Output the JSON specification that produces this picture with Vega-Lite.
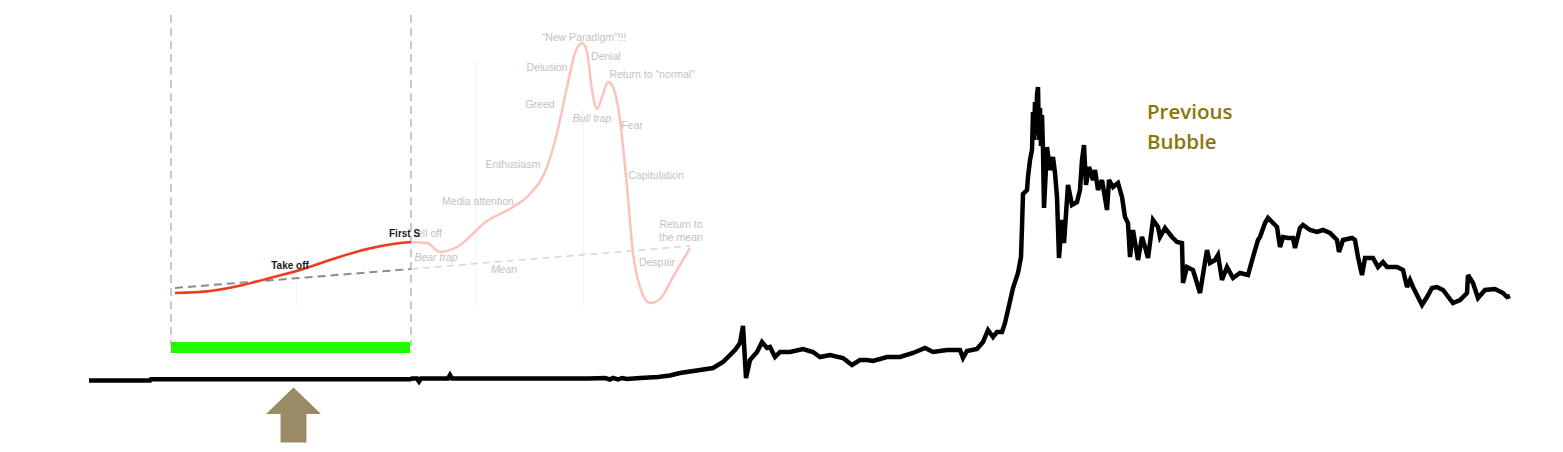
{
  "$schema": "https://vega.github.io/schema/vega-lite/v6.json",
  "width": 1563,
  "height": 452,
  "autosize": {"type": "fit", "contains": "padding"},
  "padding": 0,
  "background": "white",
  "config": {"view": {"stroke": null}},
  "datasets": {
    "grid": [
      {"x": 297, "y": 253, "y2": 305},
      {"x": 476, "y": 62, "y2": 305},
      {"x": 583, "y": 110, "y2": 305}
    ],
    "phases": [
      {"x": 171, "y": 15, "y2": 346},
      {"x": 411, "y": 15, "y2": 346}
    ],
    "meanDark": [
      {"x": 175, "y": 288},
      {"x": 411, "y": 269}
    ],
    "meanLight": [
      {"x": 411, "y": 269},
      {"x": 690, "y": 246}
    ],
    "cycleFaded": [
      {"x": 411, "y": 242}, {"x": 427, "y": 243}, {"x": 440, "y": 252}, {"x": 457, "y": 247},
      {"x": 487, "y": 221}, {"x": 513, "y": 207}, {"x": 530, "y": 194}, {"x": 547, "y": 167},
      {"x": 557, "y": 133}, {"x": 567, "y": 87}, {"x": 575, "y": 53}, {"x": 582, "y": 43},
      {"x": 587, "y": 52}, {"x": 592, "y": 90}, {"x": 597, "y": 109}, {"x": 602, "y": 97},
      {"x": 608, "y": 82}, {"x": 613, "y": 87}, {"x": 620, "y": 120}, {"x": 627, "y": 187},
      {"x": 633, "y": 253}, {"x": 640, "y": 287}, {"x": 650, "y": 303}, {"x": 660, "y": 299},
      {"x": 673, "y": 277}, {"x": 690, "y": 248}
    ],
    "cycleActive": [
      {"x": 175, "y": 293}, {"x": 210, "y": 291}, {"x": 243, "y": 285}, {"x": 270, "y": 278},
      {"x": 300, "y": 270}, {"x": 333, "y": 259}, {"x": 367, "y": 249}, {"x": 393, "y": 244},
      {"x": 411, "y": 242}
    ],
    "price": [
      {"x": 89, "y": 380.5}, {"x": 150, "y": 380.5}, {"x": 151, "y": 379.3}, {"x": 410, "y": 379.3},
      {"x": 412, "y": 378.5}, {"x": 417, "y": 378.5}, {"x": 419, "y": 381.5}, {"x": 421, "y": 378.5},
      {"x": 448, "y": 378.5}, {"x": 450, "y": 375}, {"x": 452, "y": 378.5}, {"x": 589, "y": 378.5},
      {"x": 605, "y": 378}, {"x": 610, "y": 379.5}, {"x": 613, "y": 378}, {"x": 618, "y": 379.5},
      {"x": 622, "y": 378}, {"x": 627, "y": 379}, {"x": 640, "y": 378}, {"x": 658, "y": 377},
      {"x": 670, "y": 375.5}, {"x": 680, "y": 373}, {"x": 700, "y": 370}, {"x": 713, "y": 368},
      {"x": 723, "y": 362}, {"x": 735, "y": 350}, {"x": 740, "y": 343}, {"x": 743, "y": 326},
      {"x": 746, "y": 378}, {"x": 750, "y": 360}, {"x": 757, "y": 352}, {"x": 762, "y": 342},
      {"x": 767, "y": 348}, {"x": 770, "y": 347}, {"x": 775, "y": 357}, {"x": 780, "y": 352},
      {"x": 790, "y": 352}, {"x": 803, "y": 349}, {"x": 813, "y": 352}, {"x": 820, "y": 357},
      {"x": 830, "y": 355}, {"x": 843, "y": 358}, {"x": 852, "y": 365}, {"x": 860, "y": 360},
      {"x": 867, "y": 360}, {"x": 873, "y": 361}, {"x": 887, "y": 357}, {"x": 900, "y": 357},
      {"x": 913, "y": 353}, {"x": 925, "y": 348}, {"x": 933, "y": 352}, {"x": 947, "y": 350},
      {"x": 960, "y": 350}, {"x": 963, "y": 358}, {"x": 967, "y": 351}, {"x": 977, "y": 349},
      {"x": 983, "y": 342}, {"x": 988, "y": 330}, {"x": 993, "y": 337}, {"x": 997, "y": 332},
      {"x": 1002, "y": 332}, {"x": 1005, "y": 323}, {"x": 1008, "y": 310}, {"x": 1013, "y": 288},
      {"x": 1018, "y": 273}, {"x": 1021, "y": 257}, {"x": 1022, "y": 227}, {"x": 1023, "y": 194},
      {"x": 1027, "y": 190}, {"x": 1028, "y": 177}, {"x": 1030, "y": 160}, {"x": 1032, "y": 150},
      {"x": 1033, "y": 112}, {"x": 1034, "y": 140}, {"x": 1035, "y": 102}, {"x": 1036, "y": 135},
      {"x": 1037, "y": 95}, {"x": 1038, "y": 87}, {"x": 1039, "y": 140}, {"x": 1040, "y": 108},
      {"x": 1041, "y": 146}, {"x": 1042, "y": 115}, {"x": 1043, "y": 150}, {"x": 1044, "y": 208},
      {"x": 1047, "y": 147}, {"x": 1050, "y": 170}, {"x": 1053, "y": 157}, {"x": 1055, "y": 173},
      {"x": 1057, "y": 197}, {"x": 1059, "y": 258}, {"x": 1062, "y": 220}, {"x": 1064, "y": 243},
      {"x": 1068, "y": 185}, {"x": 1072, "y": 205}, {"x": 1077, "y": 202}, {"x": 1080, "y": 190},
      {"x": 1082, "y": 160}, {"x": 1084, "y": 145}, {"x": 1086, "y": 185}, {"x": 1089, "y": 167},
      {"x": 1093, "y": 180}, {"x": 1095, "y": 170}, {"x": 1098, "y": 190}, {"x": 1102, "y": 180},
      {"x": 1107, "y": 210}, {"x": 1109, "y": 180}, {"x": 1113, "y": 187}, {"x": 1118, "y": 183},
      {"x": 1122, "y": 197}, {"x": 1125, "y": 217}, {"x": 1128, "y": 223}, {"x": 1130, "y": 257},
      {"x": 1133, "y": 230}, {"x": 1138, "y": 260}, {"x": 1142, "y": 237}, {"x": 1145, "y": 247},
      {"x": 1148, "y": 258}, {"x": 1153, "y": 220}, {"x": 1158, "y": 227}, {"x": 1160, "y": 237},
      {"x": 1165, "y": 228}, {"x": 1172, "y": 237}, {"x": 1177, "y": 242}, {"x": 1182, "y": 243},
      {"x": 1183, "y": 283}, {"x": 1187, "y": 267}, {"x": 1193, "y": 270}, {"x": 1200, "y": 293},
      {"x": 1207, "y": 250}, {"x": 1210, "y": 263}, {"x": 1215, "y": 260}, {"x": 1218, "y": 255},
      {"x": 1222, "y": 280}, {"x": 1227, "y": 267}, {"x": 1233, "y": 278}, {"x": 1240, "y": 273},
      {"x": 1248, "y": 275}, {"x": 1253, "y": 257}, {"x": 1258, "y": 240}, {"x": 1260, "y": 237},
      {"x": 1265, "y": 223}, {"x": 1268, "y": 218}, {"x": 1273, "y": 223}, {"x": 1277, "y": 227},
      {"x": 1280, "y": 247}, {"x": 1283, "y": 237}, {"x": 1288, "y": 238}, {"x": 1293, "y": 238},
      {"x": 1295, "y": 248}, {"x": 1300, "y": 228}, {"x": 1303, "y": 225}, {"x": 1310, "y": 230},
      {"x": 1317, "y": 232}, {"x": 1323, "y": 230}, {"x": 1330, "y": 233}, {"x": 1337, "y": 240},
      {"x": 1339, "y": 252}, {"x": 1343, "y": 240}, {"x": 1352, "y": 238}, {"x": 1355, "y": 240},
      {"x": 1358, "y": 257}, {"x": 1362, "y": 275}, {"x": 1365, "y": 258}, {"x": 1373, "y": 258},
      {"x": 1378, "y": 267}, {"x": 1383, "y": 262}, {"x": 1387, "y": 267}, {"x": 1397, "y": 267},
      {"x": 1403, "y": 270}, {"x": 1407, "y": 287}, {"x": 1410, "y": 280}, {"x": 1413, "y": 287},
      {"x": 1422, "y": 305}, {"x": 1427, "y": 297}, {"x": 1432, "y": 288}, {"x": 1437, "y": 287},
      {"x": 1443, "y": 290}, {"x": 1453, "y": 303}, {"x": 1460, "y": 300}, {"x": 1467, "y": 293},
      {"x": 1468, "y": 275}, {"x": 1473, "y": 283}, {"x": 1478, "y": 298}, {"x": 1485, "y": 290},
      {"x": 1495, "y": 289}, {"x": 1503, "y": 293}, {"x": 1507, "y": 297}, {"x": 1510, "y": 296}
    ],
    "band": [{"x": 171, "x2": 410, "y": 342, "y2": 353}],
    "arrow": [{"x": 293.5, "y": 415}],
    "grayLabels": [
      {"x": 584, "y": 38, "t": "“New Paradigm”!!!"},
      {"x": 547, "y": 68, "t": "Delusion"},
      {"x": 606, "y": 57, "t": "Denial"},
      {"x": 652, "y": 75, "t": "Return to “normal”"},
      {"x": 540, "y": 105, "t": "Greed"},
      {"x": 632, "y": 126, "t": "Fear"},
      {"x": 513, "y": 165, "t": "Enthusiasm"},
      {"x": 656, "y": 176, "t": "Capitulation"},
      {"x": 478, "y": 202, "t": "Media attention"},
      {"x": 681, "y": 225, "t": "Return to"},
      {"x": 681, "y": 238, "t": "the mean"},
      {"x": 657, "y": 263, "t": "Despair"}
    ],
    "grayItalic": [
      {"x": 592, "y": 119, "t": "Bull trap"},
      {"x": 436, "y": 258, "t": "Bear trap"},
      {"x": 504, "y": 270, "t": "Mean"}
    ],
    "grayLeft": [{"x": 417, "y": 234, "t": "ell off"}],
    "boldLabels": [{"x": 290, "y": 266, "t": "Take off"}],
    "boldLeft": [{"x": 389, "y": 234, "t": "First S"}],
    "bubble": [
      {"x": 1147, "y": 113, "t": "Previous"},
      {"x": 1147, "y": 143, "t": "Bubble"}
    ]
  },
  "encoding": {
    "x": {"field": "x", "type": "quantitative", "scale": {"domain": [0, 1563], "nice": false, "zero": false}, "axis": null},
    "y": {"field": "y", "type": "quantitative", "scale": {"domain": [0, 452], "nice": false, "zero": false, "reverse": true}, "axis": null}
  },
  "layer": [
    {
      "data": {"name": "grid"},
      "mark": {"type": "rule", "color": "#efefef", "strokeWidth": 1},
      "encoding": {"y2": {"field": "y2"}}
    },
    {
      "data": {"name": "phases"},
      "mark": {"type": "rule", "color": "#c8c8c8", "strokeWidth": 2, "strokeDash": [8, 5]},
      "encoding": {"y2": {"field": "y2"}}
    },
    {
      "data": {"name": "meanLight"},
      "mark": {"type": "line", "color": "#d6d6d6", "strokeWidth": 1.5, "strokeDash": [7, 5]},
      "encoding": {"order": {"value": null}}
    },
    {
      "data": {"name": "meanDark"},
      "mark": {"type": "line", "color": "#8c8c8c", "strokeWidth": 2, "strokeDash": [8, 5]},
      "encoding": {"order": {"value": null}}
    },
    {
      "data": {"name": "cycleFaded"},
      "mark": {"type": "line", "color": "#fbc3b9", "strokeWidth": 2.5, "interpolate": "monotone"},
      "encoding": {"order": {"value": null}}
    },
    {
      "data": {"name": "cycleActive"},
      "mark": {"type": "line", "color": "#f2391c", "strokeWidth": 2.5, "interpolate": "monotone"},
      "encoding": {"order": {"value": null}}
    },
    {
      "data": {"name": "band"},
      "mark": {"type": "rect", "color": "#22f900"},
      "encoding": {"x2": {"field": "x2"}, "y2": {"field": "y2"}}
    },
    {
      "data": {"name": "price"},
      "mark": {"type": "line", "color": "#000000", "strokeWidth": 4.5, "strokeJoin": "miter", "strokeMiterLimit": 3},
      "encoding": {"order": {"value": null}}
    },
    {
      "data": {"name": "arrow"},
      "mark": {"type": "point", "filled": true, "opacity": 1, "color": "#9b8a66", "size": 3025,
               "shape": "M0,-1L1,-0.04L0.47,-0.04L0.47,1L-0.47,1L-0.47,-0.04L-1,-0.04Z"}
    },
    {
      "data": {"name": "grayLabels"},
      "mark": {"type": "text", "font": "Liberation Sans", "fontSize": 10.5, "color": "#c2c2c2", "align": "center", "baseline": "middle"},
      "encoding": {"text": {"field": "t"}}
    },
    {
      "data": {"name": "grayItalic"},
      "mark": {"type": "text", "font": "Liberation Sans", "fontSize": 10.5, "fontStyle": "italic", "color": "#c2c2c2", "align": "center", "baseline": "middle"},
      "encoding": {"text": {"field": "t"}}
    },
    {
      "data": {"name": "grayLeft"},
      "mark": {"type": "text", "font": "Liberation Sans", "fontSize": 10.5, "color": "#c2c2c2", "align": "left", "baseline": "middle"},
      "encoding": {"text": {"field": "t"}}
    },
    {
      "data": {"name": "boldLabels"},
      "mark": {"type": "text", "font": "Liberation Sans", "fontSize": 10, "fontWeight": "bold", "color": "#1a1a1a", "align": "center", "baseline": "middle"},
      "encoding": {"text": {"field": "t"}}
    },
    {
      "data": {"name": "boldLeft"},
      "mark": {"type": "text", "font": "Liberation Sans", "fontSize": 10, "fontWeight": "bold", "color": "#1a1a1a", "align": "left", "baseline": "middle"},
      "encoding": {"text": {"field": "t"}}
    },
    {
      "data": {"name": "bubble"},
      "mark": {"type": "text", "font": "Open Sans", "fontSize": 20.5, "fontWeight": 600, "color": "#8a7608", "align": "left", "baseline": "middle"},
      "encoding": {"text": {"field": "t"}}
    }
  ]
}
